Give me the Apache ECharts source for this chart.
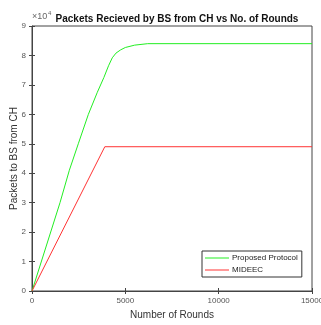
<!DOCTYPE html>
<html><head><meta charset="utf-8">
<script src="https://cdn.jsdelivr.net/npm/echarts@6/dist/echarts.min.js"></script>
<style>html,body{margin:0;padding:0;background:#fff}#c{width:321px;height:325px}</style>
</head><body><div id="c"></div>
<script>
const proposedRounds = [0, 1500, 2000, 2480, 3020, 3500, 3850, 4100, 4300, 4500, 4750, 5000, 5500, 6200, 15000];
const proposedPackets = [0, 30000, 41000, 50000, 60000, 67500, 72500, 76500, 79200, 80800, 81900, 82700, 83500, 84000, 84000];
const mideecRounds = [0, 3900, 15000];
const mideecPackets = [0, 49000, 49000];
const xTicks = [0, 5000, 10000, 15000];
const yTickLabels = ['0','1','2','3','4','5','6','7','8','9'];

const chart = echarts.init(document.getElementById('c'));
const font = 'Liberation Sans, Arial, sans-serif';
const axisCol = '#555';
chart.setOption({
  animation: false,
  title: {text: 'Packets Recieved by BS from CH vs No. of Rounds', left: 172, top: 9, textAlign: 'center',
    textStyle: {fontFamily: font, fontSize: 10, fontWeight: 'bold', color: '#111'}},
  graphic: [{type: 'text', left: 32, top: 12, style: {text: '×10', font: '9px ' + font, fill: '#666'}},
            {type: 'text', left: 48, top: 10, style: {text: '4', font: '6px ' + font, fill: '#666'}}],
  legend: {
    left: 202, top: 251, orient: 'vertical', itemGap: 4, itemWidth: 24, itemHeight: 1,
    padding: [3, 4, 3, 3], borderColor: '#333', borderWidth: 1, backgroundColor: '#fff',
    icon: 'rect', textStyle: {fontFamily: font, fontSize: 8, color: '#222', padding: [0,0,0,-2]},
    data: ['Proposed Protocol', 'MIDEEC']
  },
  grid: {left: 32, right: 9, top: 26, bottom: 34, show: true, borderColor: '#444', borderWidth: 1,
    containLabel: false, outerBoundsMode: 'none'},
  xAxis: [{type: 'value', min: 0, max: 15000, interval: 5000,
    name: 'Number of Rounds', nameLocation: 'middle', nameGap: 19, nameMoveOverlap: false,
    nameTextStyle: {fontFamily: font, fontSize: 10, color: '#333'},
    axisLine: {lineStyle: {color: '#444'}}, axisTick: {inside: true, length: 3, lineStyle: {color: '#444'}},
    axisLabel: {fontFamily: font, fontSize: 8, color: axisCol, margin: 6, showMaxLabel: true,
      formatter: v => String(v)},
    splitLine: {show: false}},
   {type: 'value', position: 'top', min: 0, max: 15000, interval: 5000,
    axisLine: {show: false}, axisTick: {inside: true, length: 3, lineStyle: {color: '#444'}},
    axisLabel: {show: false}, splitLine: {show: false}}],
  yAxis: [{type: 'value', min: 0, max: 90000, interval: 10000,
    name: 'Packets to BS from CH', nameLocation: 'middle', nameGap: 13, nameMoveOverlap: false,
    nameTextStyle: {fontFamily: font, fontSize: 10, color: '#333'},
    axisLine: {show: true, lineStyle: {color: '#444'}}, axisTick: {show: true, inside: true, length: 3, lineStyle: {color: '#444'}},
    axisLabel: {fontFamily: font, fontSize: 8, color: axisCol, margin: 6,
      formatter: v => yTickLabels[Math.round(v / 10000)]},
    splitLine: {show: false}},
   {type: 'value', position: 'right', min: 0, max: 90000, interval: 10000,
    axisLine: {show: false}, axisTick: {show: true, inside: true, length: 3, lineStyle: {color: '#444'}},
    axisLabel: {show: false}, splitLine: {show: false}}],
  series: [
    {name: 'Proposed Protocol', type: 'line', symbol: 'none',
     lineStyle: {color: '#22ee22', width: 1}, itemStyle: {color: '#22ee22'},
     data: proposedRounds.map((r, i) => [r, proposedPackets[i]])},
    {name: 'MIDEEC', type: 'line', symbol: 'none',
     lineStyle: {color: '#ff3333', width: 1}, itemStyle: {color: '#ff3333'},
     data: mideecRounds.map((r, i) => [r, mideecPackets[i]])}
  ]
});
</script></body></html>
